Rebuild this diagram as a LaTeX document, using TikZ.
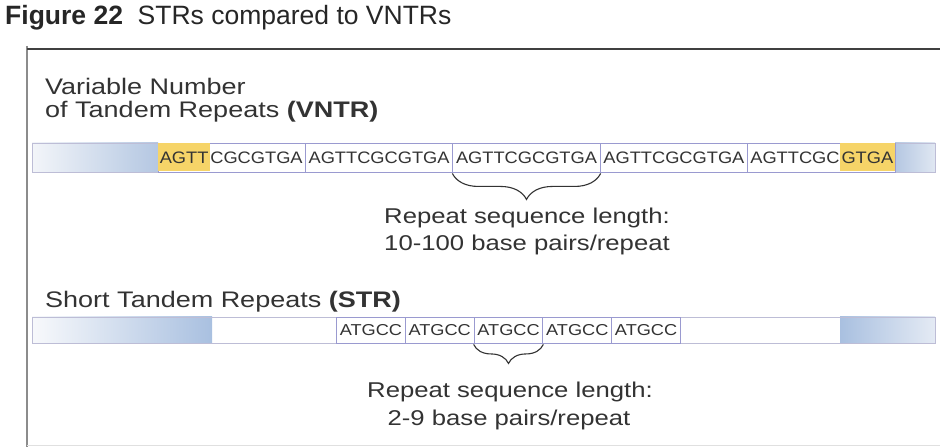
\documentclass[tikz,border=0pt]{standalone}
\usepackage{fontspec}
\setmainfont{Liberation Sans}
\newfontfamily\lblfont[FakeStretch=1.2]{Liberation Sans}
\newfontfamily\seqfont[FakeStretch=1.1]{Liberation Sans}
\newfontfamily\sseqfont[FakeStretch=1.15]{Liberation Sans}
\usetikzlibrary{decorations.pathreplacing}
\definecolor{txt}{HTML}{333333}
\definecolor{boxline}{HTML}{9A9AD0}
\definecolor{stripline}{HTML}{BDBDD6}
\definecolor{gold}{HTML}{F6D468}
\definecolor{blueA}{HTML}{B4C7E2}
\definecolor{blueB}{HTML}{F3F5F9}
\definecolor{blueC}{HTML}{A9C0E0}
\tikzset{
  lbl/.style={font=\lblfont\fontsize{22.5}{24}\selectfont, text=txt, inner sep=0pt},
  rlbl/.style={font=\lblfont\fontsize{21.4}{24}\selectfont, text=txt, inner sep=0pt},
  seq/.style={font=\seqfont\fontsize{16.6}{18}\selectfont, text=txt, inner sep=0pt},
  sseq/.style={font=\sseqfont\fontsize{15.8}{17}\selectfont, text=txt, inner sep=0pt},
  vbox/.style={draw=boxline, line width=0.9pt, fill=white, minimum width=147.4pt, minimum height=29pt, inner sep=0pt},
  sbox/.style={draw=boxline, line width=0.9pt, fill=white, minimum width=68.8pt, minimum height=26pt, inner sep=0pt},
  hilite/.style={fill=gold, minimum height=28pt, inner ysep=0pt, inner xsep=1.5pt, font=\seqfont\fontsize{16.6}{18}\selectfont, text=txt},
  bracestyle/.style={decorate, draw=txt, line width=1.1pt},
}
\begin{document}
\begin{tikzpicture}[x=1pt,y=1pt]
\useasboundingbox (0,0) rectangle (940,447);
\fill[white] (0,0) rectangle (940,447);
% title
\node[anchor=base west, inner sep=0pt, font=\fontsize{26.5}{30}\selectfont, text=black!85] (title) at (5,422) {\textbf{Figure 22}\ \ STRs compared to VNTRs};
% frame
\coordinate (ftl) at (27,401);
\coordinate (fbl) at (27,0);
\coordinate (ftr) at (940,398);
\draw[black!45, line width=2pt] (ftl) -- (fbl);
\draw[black!75, line width=1.4pt] (27,398) -- (ftr);
\draw[black!12, line width=1pt] (27,1.5) -- (940,1.5);
% VNTR label
\node[lbl, anchor=base west] (vn1) at (45,352) {Variable Number};
\node[lbl, anchor=base west] (vn2) at (45,329) {of Tandem Repeats \textbf{(VNTR)}};
% VNTR strip
\shade[left color=blueB, right color=blueA] (32,275) rectangle (158,304);
\shade[left color=blueA, right color=blueB!70!blueA] (895,275) rectangle (935,304);
\draw[stripline, line width=0.9pt] (32,275) rectangle (935,304);
\node[vbox] (v1) at (231.7,289.5) {};
\node[vbox] (v2) at (379.1,289.5) {};
\node[vbox] (v3) at (526.5,289.5) {};
\node[vbox] (v4) at (673.9,289.5) {};
\node[vbox] (v5) at (821.3,289.5) {};
\node[hilite, anchor=west] (y1) at ([xshift=0.5pt]v1.west) {AGTT};
\node[seq, anchor=base west] (t1) at (y1.base east) {CGCGTGA};
\node[seq] (t2) at (v2) {AGTTCGCGTGA};
\node[seq] (t3) at (v3) {AGTTCGCGTGA};
\node[seq] (t4) at (v4) {AGTTCGCGTGA};
\node[hilite, anchor=east] (y5) at ([xshift=-0.5pt]v5.east) {GTGA};
\node[seq, anchor=base east] (t5) at (y5.base west) {AGTTCGC};
\draw[bracestyle, decoration={brace, mirror, amplitude=26pt, raise=1pt}] (v3.south west) -- (v3.south east);
\node[rlbl, anchor=base] (vr1) at (527,223) {Repeat sequence length:};
\node[rlbl, anchor=base] (vr2) at (527,196) {10-100 base pairs/repeat};
% STR label
\node[lbl, anchor=base west] (sn) at (45,139) {Short Tandem Repeats \textbf{(STR)}};
% STR strip
\shade[left color=blueB!60!white, right color=blueC] (32,104) rectangle (212,130);
\shade[left color=blueC, right color=blueB!80!blueC] (840,104) rectangle (935,130);
\draw[stripline, line width=0.9pt] (32,104) rectangle (935,130);
\node[sbox] (s1) at (370.9,117) {};
\node[sbox] (s2) at (439.7,117) {};
\node[sbox] (s3) at (508.5,117) {};
\node[sbox] (s4) at (577.3,117) {};
\node[sbox] (s5) at (646.1,117) {};
\node[sseq] (u1) at (s1) {ATGCC};
\node[sseq] (u2) at (s2) {ATGCC};
\node[sseq] (u3) at (s3) {ATGCC};
\node[sseq] (u4) at (s4) {ATGCC};
\node[sseq] (u5) at (s5) {ATGCC};
\draw[bracestyle, decoration={brace, mirror, amplitude=19pt, raise=1pt}] (s3.south west) -- (s3.south east);
\node[rlbl, anchor=base] (sr1) at (510,49) {Repeat sequence length:};
\node[rlbl, anchor=base] (sr2) at (509,21) {2-9 base pairs/repeat};
\end{tikzpicture}
\end{document}
